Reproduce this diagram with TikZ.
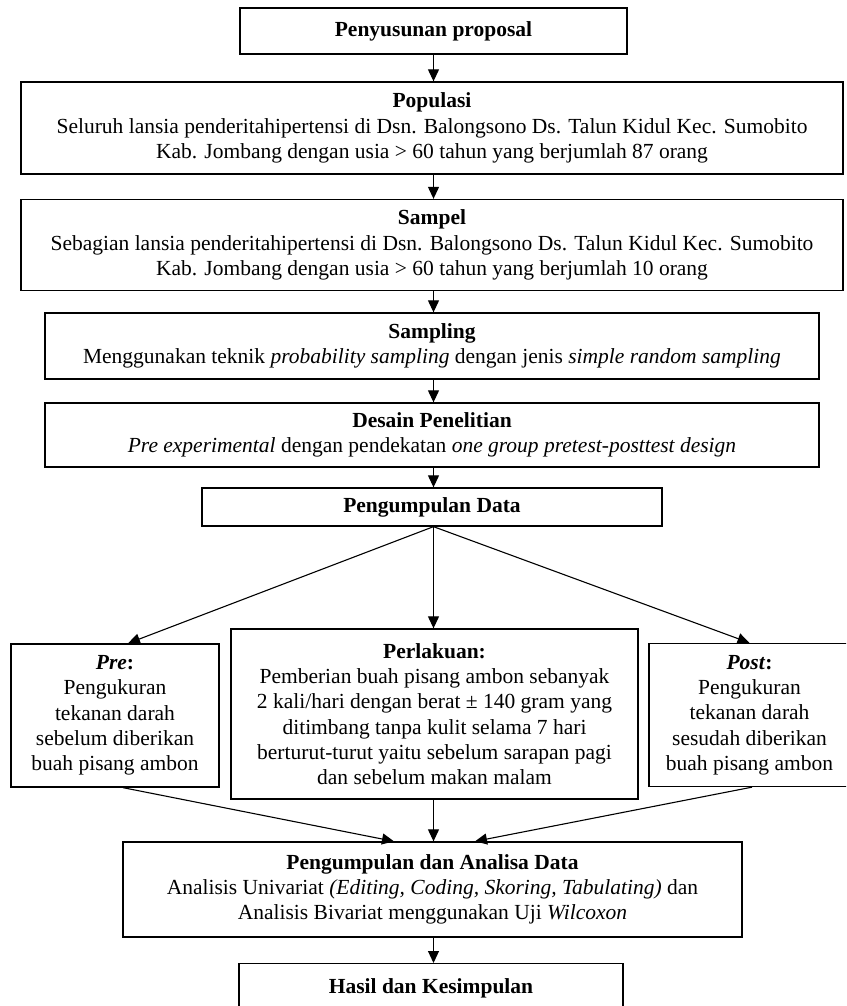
\documentclass[tikz,border=0pt]{standalone}
\usepackage{fontspec}
\setmainfont{Liberation Serif}
\usetikzlibrary{arrows.meta,calc}
\begin{document}
\begin{tikzpicture}[x=1pt,y=-1pt,
  box/.style={draw,line width=1.3pt,align=center,inner sep=0pt,
    font=\fontsize{21.5}{25.3}\selectfont},
  arr/.style={line width=1.1pt,-{Triangle[length=12pt,width=11pt]}}]
\useasboundingbox (0,0) rectangle (846,1006);
\clip (0,0) rectangle (846,1006);
\node[box,minimum width=387pt,minimum height=46pt] (b1) at (433.5,31) {\textbf{Penyusunan proposal}};
\node[box,minimum width=822pt,minimum height=92pt] (b2) at (432,128) {\textbf{Populasi}\\Seluruh lansia penderitahipertensi di Dsn. Balongsono Ds. Talun Kidul Kec. Sumobito\\Kab. Jombang dengan usia > 60 tahun yang berjumlah 87 orang};
\node[box,minimum width=822pt,minimum height=91pt] (b3) at (432,245) {\textbf{Sampel}\\Sebagian lansia penderitahipertensi di Dsn. Balongsono Ds. Talun Kidul Kec. Sumobito\\Kab. Jombang dengan usia > 60 tahun yang berjumlah 10 orang};
\node[box,minimum width=774pt,minimum height=66pt] (b4) at (432,346) {\textbf{Sampling}\\Menggunakan teknik \textit{probability sampling} dengan jenis \textit{simple random sampling}};
\node[box,minimum width=774pt,minimum height=64pt] (b5) at (432,435) {\textbf{Desain Penelitian}\\\textit{Pre experimental} dengan pendekatan \textit{one group pretest-posttest design}};
\node[box,minimum width=460pt,minimum height=38pt] (b6) at (432,507) {\textbf{Pengumpulan Data}};
\node[box,minimum width=208pt,minimum height=143pt] (pre) at (115,715.5) {\textbf{\textit{Pre}:}\\Pengukuran\\tekanan darah\\sebelum diberikan\\buah pisang ambon};
\node[box,minimum width=407pt,minimum height=170pt] (perl) at (434.5,714) {\textbf{Perlakuan:}\\Pemberian buah pisang ambon sebanyak\\2 kali/hari dengan berat ± 140 gram yang\\ditimbang tanpa kulit selama 7 hari\\berturut-turut yaitu sebelum sarapan pagi\\dan sebelum makan malam};
\node[box,minimum width=619pt,minimum height=95pt] (b7) at (432.5,889.5) {\textbf{Pengumpulan dan Analisa Data}\\Analisis Univariat \textit{(Editing, Coding, Skoring, Tabulating)} dan\\Analisis Bivariat menggunakan Uji \textit{Wilcoxon}};
\node[box,minimum width=201pt,minimum height=143pt] (post) at (749.5,715) {\textbf{\textit{Post}:}\\Pengukuran\\tekanan darah\\sesudah diberikan\\buah pisang ambon};
\node[box,minimum width=384pt,minimum height=60pt,anchor=north] (b8) at (431,963) {\raisebox{15pt}{\textbf{Hasil dan Kesimpulan}}};
\coordinate (fan) at (b6.south -| b1.south);
\draw[arr] (b1.south) -- (b2.north -| b1.south);
\draw[arr] (b2.south -| fan) -- (b3.north -| fan);
\draw[arr] (b3.south -| fan) -- (b4.north -| fan);
\draw[arr] (b4.south -| fan) -- (b5.north -| fan);
\draw[arr] (b5.south -| fan) -- (b6.north -| fan);
\draw[arr] (fan) -- ([xshift=13pt]pre.north);
\draw[arr] (fan) -- (perl.north -| fan);
\draw[arr] (fan) -- (post.north);
\draw[arr] ([xshift=8pt]pre.south) -- ([xshift=-38.5pt]b7.north);
\draw[arr] (perl.south -| fan) -- (b7.north -| fan);
\draw[arr] ([xshift=2.5pt]post.south) -- ([xshift=42.5pt]b7.north);
\draw[arr] (b7.south -| fan) -- (b8.north -| fan);
\end{tikzpicture}
\end{document}
